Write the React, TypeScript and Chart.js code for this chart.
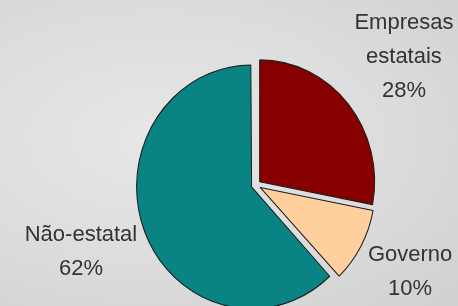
import React, { useEffect, useRef } from "react";
import { Chart, registerables } from "chart.js";

Chart.register(...registerables);

const categories: string[][] = [["Empresas", "estatais"], ["Governo"], ["Não-estatal"]];
const values: number[] = [28, 10, 62];
const sliceColors: string[] = ["#870000", "#ffcf9e", "#0a8385"];

const W = 458;
const H = 306;
const SCALE_Y = 1.06;
const FONT_SIZE = 22;
const LINE_GAP = 34;
const RADIUS = 115;
const OFFSET = 19;

// keep exploded slices at the same radius (Chart.js enlarges large slices by the offset)
const radiusFixPlugin = {
  id: "radiusFix",
  afterDatasetsUpdate(chart: any) {
    const meta = chart.getDatasetMeta(0);
    meta.data.forEach((arc: any) => {
      const circ = arc.endAngle - arc.startAngle;
      const fix = 1 - Math.sin(Math.min(Math.PI, circ));
      arc.outerRadius = RADIUS - (OFFSET / 4) * fix;
    });
  },
};

const ellipsePlugin = {
  id: "ellipse",
  beforeDatasetsDraw(chart: any) {
    const arc = chart.getDatasetMeta(0).data[0];
    const ctx = chart.ctx;
    ctx.save();
    ctx.translate(arc.x, arc.y);
    ctx.scale(1, SCALE_Y);
    ctx.translate(-arc.x, -arc.y);
  },
  afterDatasetsDraw(chart: any) {
    chart.ctx.restore();
  },
};

const labelPlugin = {
  id: "outsideLabels",
  afterDraw(chart: any) {
    const ctx = chart.ctx;
    const meta = chart.getDatasetMeta(0);
    const data: number[] = chart.data.datasets[0].data;
    const total = data.reduce((a, b) => a + b, 0);
    ctx.save();
    ctx.font = `${FONT_SIZE}px "Liberation Sans", Arial, sans-serif`;
    ctx.fillStyle = "#333333";
    ctx.textAlign = "center";
    ctx.textBaseline = "alphabetic";
    meta.data.forEach((arc: any, i: number) => {
      const lbl = chart.data.labels[i];
      const lines: string[] = [...(Array.isArray(lbl) ? lbl : [lbl]), `${Math.round((data[i] / total) * 100)}%`];
      const mid = (arc.startAngle + arc.endAngle) / 2;
      const dx = Math.cos(mid);
      const dy = Math.sin(mid);
      const r = RADIUS + OFFSET / 4;
      const gap = 8;
      const ax = arc.x + dx * (r + gap);
      const ay = arc.y + dy * (r * SCALE_Y + gap);
      const w = Math.max(...lines.map((l) => ctx.measureText(l).width));
      const capH = FONT_SIZE * 0.74;
      const h = capH + (lines.length - 1) * LINE_GAP;
      const left = dx >= 0 ? ax : ax - w;
      const cy = ay + dy * 0.82 * h;
      const top = cy - h / 2;
      lines.forEach((l, k) => {
        ctx.fillText(l, left + w / 2, top + capH + k * LINE_GAP);
      });
    });
    ctx.restore();
  },
};

export default function App() {
  const ref = useRef<HTMLCanvasElement | null>(null);
  useEffect(() => {
    document.body.style.margin = "0";
    if (!ref.current) return;
    const chart = new Chart(ref.current, {
      type: "pie",
      data: {
        labels: categories,
        datasets: [
          {
            data: values,
            backgroundColor: sliceColors,
            borderColor: "#1a1a1a",
            borderWidth: 1,
            offset: OFFSET,
          },
        ],
      },
      options: {
        responsive: false,
        animation: false,
        radius: RADIUS,
        layout: { padding: { left: 54, right: 0, top: 64, bottom: 0 } },
        plugins: {
          legend: { display: false },
          tooltip: { enabled: false },
        },
      } as any,
      plugins: [radiusFixPlugin, ellipsePlugin, labelPlugin],
    });
    return () => chart.destroy();
  }, []);
  return (
    <div
      style={{
        position: "fixed",
        left: 0,
        top: 0,
        width: W,
        height: H,
        overflow: "hidden",
        background:
          "radial-gradient(ellipse at 35% 45%, #e7e7e7 0%, #dcdcdc 55%, #d0d0d0 100%)",
      }}
    >
      <canvas ref={ref} width={W} height={H} style={{ display: "block" }} />
    </div>
  );
}
